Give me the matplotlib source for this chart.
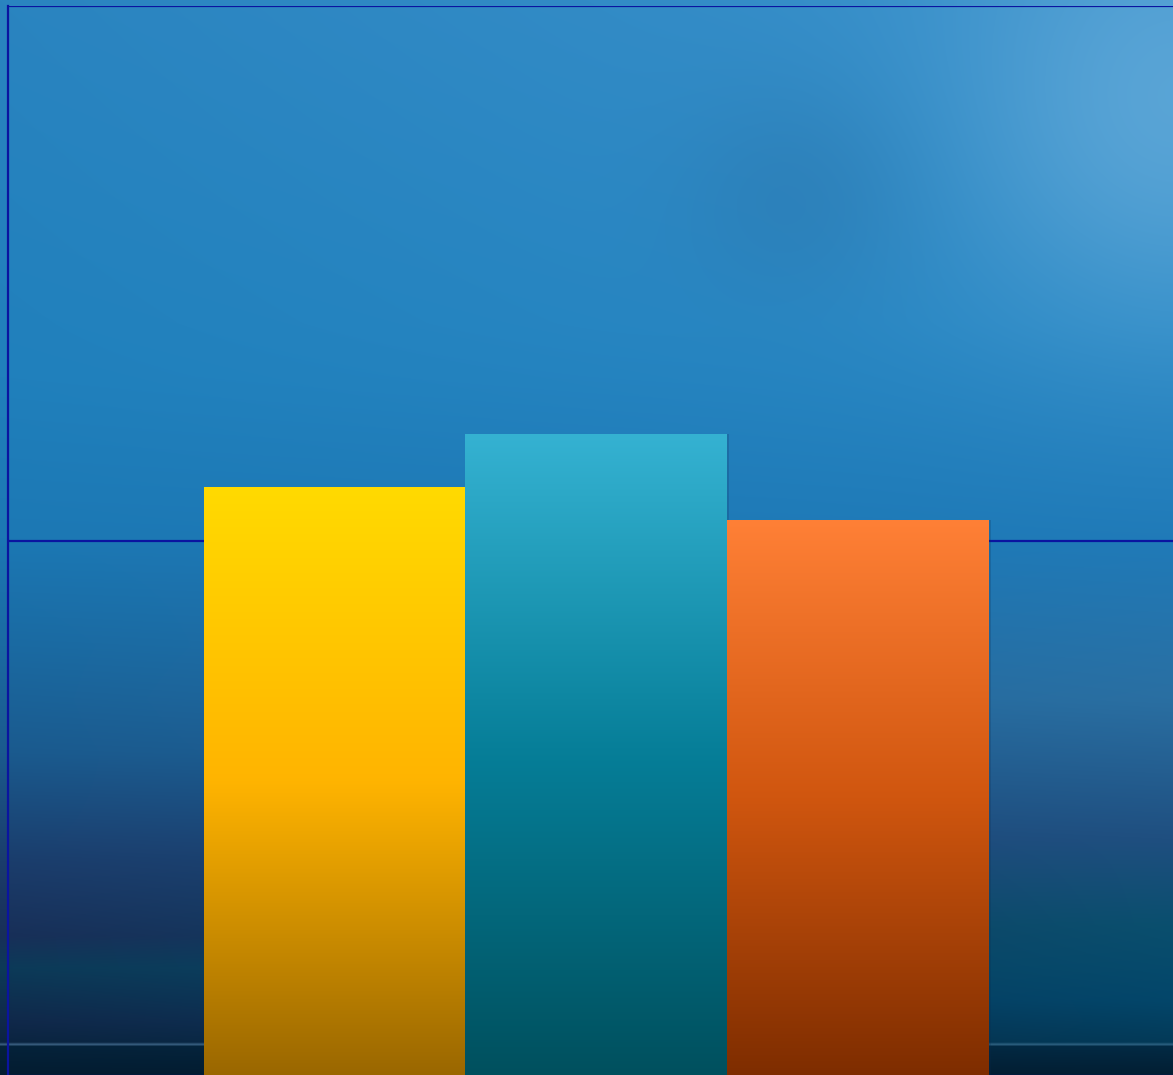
import numpy as np
import matplotlib.pyplot as plt
from matplotlib.colors import LinearSegmentedColormap, to_rgb

# Data
categories = ['A', 'B', 'C']
values = [55, 60, 52]
bar_colors = [
    ['#FFDA00', '#FFB400', '#9A6700'],
    ['#35B2D2', '#067E98', '#00505E'],
    ['#FF8036', '#D0560F', '#7E2D00'],
]
y_ticks = [0, 50, 100]

W, H = 1173, 1075
fig = plt.figure(figsize=(W / 100, H / 100), dpi=100)

# Background: blue sky-like wallpaper, dark navy at the bottom
bg_ax = fig.add_axes([0, 0, 1, 1], zorder=0)
bg_ax.axis('off')
yy, xx = np.mgrid[0:H, 0:W] / np.array([H, W])[:, None, None]

def lerp_rows(stops, t):
    pos = np.array([s[0] for s in stops])
    cols = np.array([to_rgb(s[1]) for s in stops])
    return np.stack([np.interp(t, pos, cols[:, c]) for c in range(3)], axis=-1)

left = lerp_rows([(0, '#2a84c0'), (0.35, '#2080bc'), (0.5, '#1c78b4'),
                  (0.6, '#1a6aa2'), (0.7, '#1a5a8e'), (0.8, '#1b3d6c'),
                  (0.87, '#182f58'), (0.9, '#0c3a58'), (0.95, '#10284a'),
                  (0.969, '#0b2440'), (0.971, '#3a5e80'), (0.973, '#05223a'),
                  (1.0, '#031c30')], yy)
right = lerp_rows([(0, '#3a92cc'), (0.3, '#2c8ac6'), (0.5, '#1f7ab8'),
                   (0.65, '#2a6fa2'), (0.78, '#1f4f80'), (0.86, '#0a4f6e'),
                   (0.93, '#03466a'), (0.969, '#033a58'), (0.971, '#2a6080'),
                   (0.973, '#022a44'), (1.0, '#021e32')], yy)
img = left * (1 - xx[..., None]) + right * xx[..., None]
# lighter patch upper right, faint cloud shadow in the middle
glow = np.exp(-(((xx - 1.0) / 0.18) ** 2 + ((yy - 0.1) / 0.2) ** 2))
img = img + glow[..., None] * (np.array(to_rgb('#70b2de')) - img) * 0.6
shade = np.exp(-(((xx - 0.68) / 0.1) ** 2 + ((yy - 0.18) / 0.1) ** 2))
img = img + shade[..., None] * (np.array(to_rgb('#2a72a8')) - img) * 0.35
img = np.clip(img, 0, 1)
bg_ax.imshow(img, aspect='auto', extent=[0, 1, 0, 1], interpolation='bilinear')
bg_ax.set_xlim(0, 1)
bg_ax.set_ylim(0, 1)

# Main chart axes
ax = fig.add_axes([8 / W, -1 / H, 1176 / W, 1070 / H], zorder=1)
ax.set_facecolor('none')
x = np.arange(len(categories))
ax.set_xlim(-1.25, 3.25)
ax.set_ylim(0, 100)

bars = ax.bar(x, values, width=1.0, color='none', zorder=3)
for bar, cols in zip(bars, bar_colors):
    cmap = LinearSegmentedColormap.from_list('g', cols)
    x0, y0 = bar.get_x(), bar.get_y()
    w, h = bar.get_width(), bar.get_height()
    # soft shadow
    ax.bar(x0 + w / 2 + 0.01, h + 0.3, width=w, bottom=y0 - 0.3,
           color='#0a2a50', alpha=0.2, zorder=2, linewidth=0)
    grad = np.linspace(0, 1, 256)[:, None]
    im = ax.imshow(grad, cmap=cmap, aspect='auto', extent=[x0, x0 + w, y0, y0 + h],
                   zorder=3, interpolation='bicubic')
    im.set_clip_path(bar)

ax.set_yticks(y_ticks)
ax.yaxis.grid(True, color='#0a14a0', linewidth=1.6)
ax.set_axisbelow(True)
ax.tick_params(left=False, bottom=False, labelleft=False, labelbottom=False)
for side in ['top', 'right', 'bottom']:
    ax.spines[side].set_visible(False)
ax.spines['left'].set_color('#0a14a0')
ax.spines['left'].set_linewidth(1.6)
ax.set_xlim(-1.25, 3.25)
ax.set_ylim(0, 100)

fig.savefig('out.png', dpi=100)
